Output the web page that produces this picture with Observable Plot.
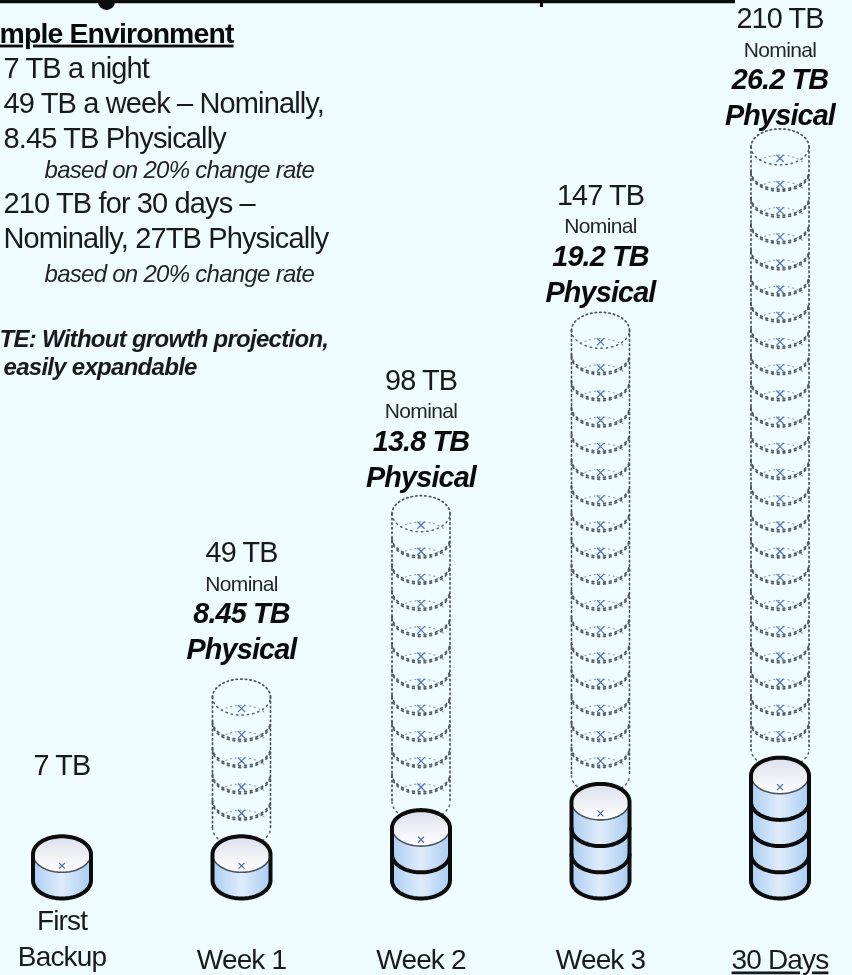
<!DOCTYPE html>
<html>
<head>
<meta charset="utf-8">
<script src="https://cdn.jsdelivr.net/npm/d3@7"></script>
<script src="https://cdn.jsdelivr.net/npm/@observablehq/plot@0.6"></script>
<style>
html,body{margin:0;padding:0;background:#eefcff;overflow:hidden}
svg{display:block}
svg text{letter-spacing:-0.03em}
.u text, text.u{text-decoration:underline}
</style>
</head>
<body>
<div id="chart"></div>
<script>
// ---- chart values
const categories = ["First Backup", "Week 1", "Week 2", "Week 3", "30 Days"];
const nominalTB = [7, 49, 98, 147, 210];
const physicalTB = [null, 8.45, 13.8, 19.2, 26.2];
const solidDisks = [1, 1, 2, 3, 4];
const ghostDisks = [0, 5, 11, 17, 23];
const heading = "mple Environment";
const notes = ["7 TB a night", "49 TB a week – Nominally,", "8.45 TB Physically", "210 TB for 30 days –", "Nominally, 27TB Physically"];
const rateNotes = ["based on 20% change rate", "based on 20% change rate"];
const warning = ["TE: Without growth projection,", "easily expandable"];

// ---- layout: x is column number, y is disks stacked
const W = 852, H = 975, colStep = 179.5, col0 = 61.5, diskStep = 26.2, base = 880;
const col = p => (p - col0) / colStep, unit = p => (base - p) / diskStep;
const rx = 29 / colStep, ry = 18 / diskStep, STEPS = 48;
const arc = (i, u, a0, a1) => d3.range(STEPS + 1).map(k => {
  const t = a0 + (a1 - a0) * k / STEPS;
  return {x: i + rx * Math.cos(t), y: u + ry * Math.sin(t)};
});
const PI = Math.PI;
const tag = (rows, id) => rows.map(r => ({...r, id}));

const ghostBack = [], ghostFront = [], ghostFaintFront = [], ghostOutline = [], ghostX = [];
const solidBody = [], solidTop = [], solidOutline = [], solidDiv = [], solidFace = [], solidX = [];
categories.forEach((_, i) => {
  const s = solidDisks[i], d = ghostDisks[i];
  if (d > 0) {
    const top = s + d + 1;
    ghostOutline.push(...tag(arc(i, top, 0, PI), `t${i}`));
    ghostOutline.push(...tag([{x: i - rx, y: top}, {x: i - rx, y: s + 1}], `l${i}`));
    ghostOutline.push(...tag([{x: i + rx, y: top}, {x: i + rx, y: s + 1}], `r${i}`));
    for (let u = s + 1; u <= top; u++) {
      if (u < top) ghostBack.push(...tag(arc(i, u, 0.22 * PI, 0.78 * PI), `b${i}-${u}`));
      const front = arc(i, u, PI, 2 * PI);
      if (u > s + 1 && u < top) {
        ghostFront.push(...tag(front, `f${i}-${u}`));
        ghostFront.push(...tag(front.map(p => ({x: p.x, y: p.y + 0.07})), `h${i}-${u}`));
      } else ghostFaintFront.push(...tag(front, `g${i}-${u}`));
      if (u > s + 1) ghostX.push({x: i, y: u - ry + 0.25});
    }
  }
  const front = arc(i, 0, PI, 2 * PI);
  solidBody.push(...front.map(p => ({x: p.x, y1: p.y, y2: p.y + s, id: i})));
  const upper = arc(i, s, PI, 0), lower = arc(i, s, PI, 2 * PI);
  solidTop.push(...upper.map((p, k) => ({x: p.x, y1: lower[k].y, y2: p.y, id: i})));
  solidOutline.push(...tag([...arc(i, s, 0, PI), ...arc(i, 0, PI, 2 * PI)], i), {...arc(i, s, 0, 0)[0], id: i});
  for (let u = 1; u < s; u++) solidDiv.push(...tag(arc(i, u, PI, 2 * PI), `${i}-${u}`));
  solidFace.push(...tag(lower, i));
  solidX.push({x: i, y: s - ry + 0.25});
});

// ---- labels sit above each stack
const labelLift = [-44, 11, 0, 2, -5];
const stackTop = i => {
  const s = solidDisks[i], d = ghostDisks[i];
  return d > 0 ? base - diskStep * (s + d + 1) - 18 : base - diskStep * s - 18;
};
const columns = categories.map((c, i) => ({i, nominal: `${nominalTB[i]} TB`, physical: physicalTB[i] == null ? null : `${physicalTB[i]} TB`, top: stackTop(i) - labelLift[i]}));
const withPhysical = columns.filter(d => d.physical);
const sans = "Liberation Sans, Arial, sans-serif";

const defs = () => {
  const d = d3.create("svg:defs");
  const h = d.append("linearGradient").attr("id", "bodyGrad").attr("x1", 0).attr("x2", 1).attr("y1", 0).attr("y2", 0);
  [[0, "#a9cdf3"], [0.5, "#e0ecfa"], [1, "#a9cdf3"]].forEach(([o, c]) => h.append("stop").attr("offset", o).attr("stop-color", c));
  const v = d.append("linearGradient").attr("id", "faceGrad").attr("x1", 0).attr("x2", 0).attr("y1", 0).attr("y2", 1);
  [[0, "#dadfea"], [1, "#ffffff"]].forEach(([o, c]) => v.append("stop").attr("offset", o).attr("stop-color", c));
  return d.node();
};
const big = 28.8, ink = "#1a1a1a";

const chart = Plot.plot({
  width: W, height: H, margin: 0,
  style: {background: "#eefcff", fontFamily: sans, filter: "blur(0.45px)"},
  x: {domain: [col(0), col(W)], range: [0, W], axis: null},
  y: {domain: [unit(H), unit(0)], range: [H, 0], axis: null},
  marks: [
    defs,
    // clipped title rule at the top edge
    Plot.ruleY([unit(1)], {x1: col(0), x2: col(735), stroke: "#0a0a0a", strokeWidth: 3.5}),
    Plot.dot([{x: col(106), y: unit(1)}], {x: "x", y: "y", r: 8.5, fill: "#0a0a0a"}),
    Plot.ruleX([col(541)], {y1: unit(0), y2: unit(7), stroke: "#0a0a0a", strokeWidth: 3}),

    // ghost (nominal) disks
    Plot.line(ghostBack, {x: "x", y: "y", z: "id", stroke: "#8f9db3", strokeWidth: 1.1, strokeDasharray: "1.2 3.6", strokeLinecap: "round"}),
    Plot.line(ghostFaintFront, {x: "x", y: "y", z: "id", stroke: "#5a6068", strokeWidth: 1.5, strokeDasharray: "1.4 4", strokeLinecap: "round"}),
    Plot.line(ghostFront, {x: "x", y: "y", z: "id", stroke: "#565c64", strokeWidth: 1.8, strokeDasharray: "1.6 4.2", strokeLinecap: "round"}),
    Plot.line(ghostOutline, {x: "x", y: "y", z: "id", stroke: "#4d535b", strokeWidth: 1.7, strokeDasharray: "1.4 3.2", strokeLinecap: "round"}),
    Plot.dot(ghostX, {x: "x", y: "y", symbol: "times", r: 3.4, stroke: "#5670b4", strokeWidth: 1.2}),

    // solid (physical) disks
    Plot.areaY(solidBody, {x: "x", y1: "y1", y2: "y2", z: "id", fill: "url(#bodyGrad)"}),
    Plot.areaY(solidTop, {x: "x", y1: "y1", y2: "y2", z: "id", fill: "url(#faceGrad)"}),
    Plot.line(solidFace, {x: "x", y: "y", z: "id", stroke: "#4a515b", strokeWidth: 1.6}),
    Plot.line(solidDiv, {x: "x", y: "y", z: "id", stroke: "#0c0c0c", strokeWidth: 4}),
    Plot.line(solidOutline, {x: "x", y: "y", z: "id", stroke: "#0c0c0c", strokeWidth: 4, strokeLinejoin: "round"}),
    Plot.dot(solidX, {x: "x", y: "y", symbol: "times", r: 2.8, stroke: "#3f5fb0", strokeWidth: 1.1}),

    // labels above the stacks
    Plot.text(columns, {x: "i", y: d => unit(d.top - 115), text: "nominal", fontSize: big, fill: ink}),
    Plot.text(withPhysical, {x: "i", y: d => unit(d.top - 84), text: () => "Nominal", fontSize: 21, fill: "#252525"}),
    Plot.text(withPhysical, {x: "i", y: d => unit(d.top - 54), text: "physical", fontSize: big, fontWeight: "bold", fontStyle: "italic", fill: "#0a0a0a"}),
    Plot.text(withPhysical, {x: "i", y: d => unit(d.top - 18), text: () => "Physical", fontSize: big, fontWeight: "bold", fontStyle: "italic", fill: "#0a0a0a"}),

    // category labels
    Plot.text(["First"], {x: () => 0, y: () => unit(921), fontSize: 28, fill: ink}),
    Plot.text(["Backup"], {x: () => 0, y: () => unit(957), fontSize: 28, fill: ink}),
    Plot.text(categories.slice(1, 4), {x: (d, i) => i + 1, y: () => unit(960), fontSize: 28, fill: ink}),
    Plot.text(categories.slice(4), {x: () => 4, y: () => unit(960), fontSize: 28, fill: ink, className: "u"}),

    // left-hand text block
    Plot.text([heading], {x: () => col(-1), y: () => unit(33), textAnchor: "start", fontSize: 28.4, fontWeight: "bold", fill: "#0a0a0a", className: "u"}),
    Plot.text(notes, {x: () => col(3), y: (d, i) => unit([68, 103, 138, 203, 238][i]), textAnchor: "start", fontSize: 29, fill: ink}),
    Plot.text(rateNotes, {x: () => col(44), y: (d, i) => unit([170, 274][i]), textAnchor: "start", fontSize: 24, fontStyle: "italic", fill: "#252525"}),
    Plot.text(warning, {x: (d, i) => col([-1, 3][i]), y: (d, i) => unit([339, 367][i]), textAnchor: "start", fontSize: 24, fontWeight: "bold", fontStyle: "italic", fill: ink})
  ]
});
document.getElementById("chart").append(chart);
</script>
</body>
</html>
